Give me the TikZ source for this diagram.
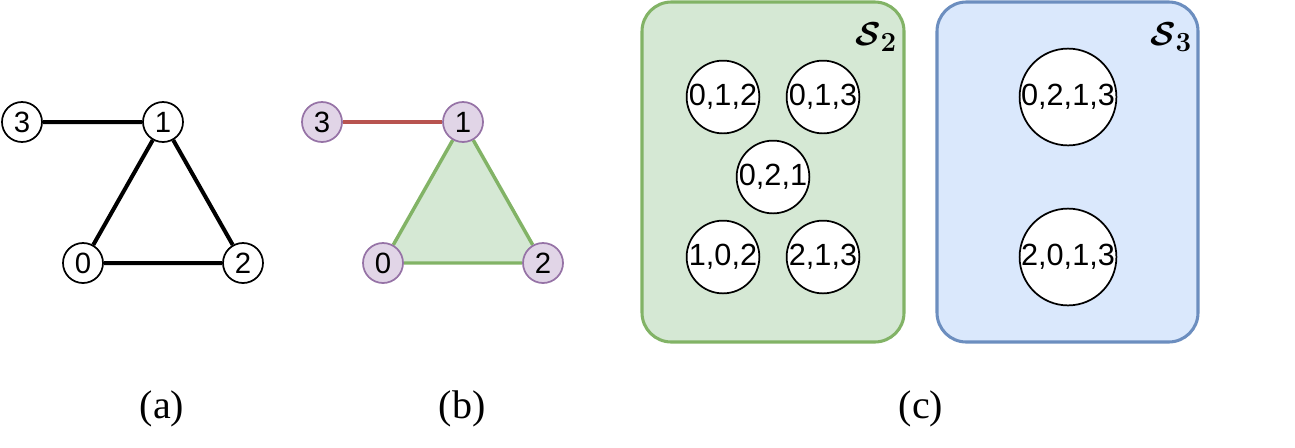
\documentclass[tikz,border=0pt]{standalone}
\usepackage{bm}
\usepackage{fontspec}
\setmainfont{Liberation Serif}
\newfontfamily\vfont{Liberation Sans}
\usetikzlibrary{backgrounds}
\definecolor{purpfill}{HTML}{E1D5E7}
\definecolor{purpline}{HTML}{9673A6}
\definecolor{grnfill}{HTML}{D5E8D4}
\definecolor{grnline}{HTML}{82B366}
\definecolor{bluefill}{HTML}{DAE8FC}
\definecolor{blueline}{HTML}{6C8EBF}
\definecolor{redline}{HTML}{B85450}
\tikzset{
  vtx/.style={circle,draw,fill=white,line width=1.3pt,minimum size=30pt,inner sep=0pt,font=\vfont\fontsize{22}{22}\selectfont},
  pvtx/.style={vtx,draw=purpline,fill=purpfill},
  setv/.style={vtx,minimum size=52.5pt,font=\vfont\fontsize{23}{23}\selectfont},
  bigv/.style={vtx,minimum size=67.5pt,font=\vfont\fontsize{23}{23}\selectfont},
  setbox/.style={rounded corners=22pt,line width=2.3pt},
  sub/.style={font=\fontsize{30}{30}\selectfont},
}
\begin{document}
\begin{tikzpicture}[x=0.75pt,y=-0.75pt]
\useasboundingbox (0,0) rectangle (1295,447);
% (a)
\node[vtx] (a3) at (22,122) {3};
\node[vtx] (a1) at (163,122) {1};
\node[vtx] (a0) at (83,263) {0};
\node[vtx] (a2) at (243,263) {2};
\draw[line width=3pt] (a3)--(a1) (a1)--(a0) (a0)--(a2) (a2)--(a1);
\node[sub] (la) at (162,409) {(a)};
% (b)
\node[pvtx] (b3) at (322,122) {3};
\node[pvtx] (b1) at (463,122) {1};
\node[pvtx] (b0) at (383,263) {0};
\node[pvtx] (b2) at (543,263) {2};
\begin{scope}[on background layer]
\fill[grnfill] (b1.center)--(b0.center)--(b2.center)--cycle;
\draw[grnline,line width=2.6pt] (b1)--(b0) (b0)--(b2) (b2)--(b1);
\draw[redline,line width=2.4pt] (b3)--(b1);
\end{scope}
\node[sub] (lb) at (462,409) {(b)};
% (c)
\draw[setbox,draw=grnline,fill=grnfill] (642,2) rectangle (904,342);
\node[font=\fontsize{28}{28}\selectfont] (s2) at (876,37) {$\bm{\mathcal{S}_2}$};
\foreach \nm/\x/\y/\lab in {c1/723/97/{0,1,2},c2/823/97/{0,1,3},c3/773/177/{0,2,1},c4/723/257/{1,0,2},c5/823/257/{2,1,3}}
  \node[setv] (\nm) at (\x,\y) {\lab};
\draw[setbox,draw=blueline,fill=bluefill] (937,2) rectangle (1198,342);
\node[font=\fontsize{28}{28}\selectfont] (s3) at (1171,37) {$\bm{\mathcal{S}_3}$};
\node[bigv] (d1) at (1068,97) {0,2,1,3};
\node[bigv] (d2) at (1068,257) {2,0,1,3};
\node[sub] (lc) at (921,409) {(c)};
\end{tikzpicture}
\end{document}
